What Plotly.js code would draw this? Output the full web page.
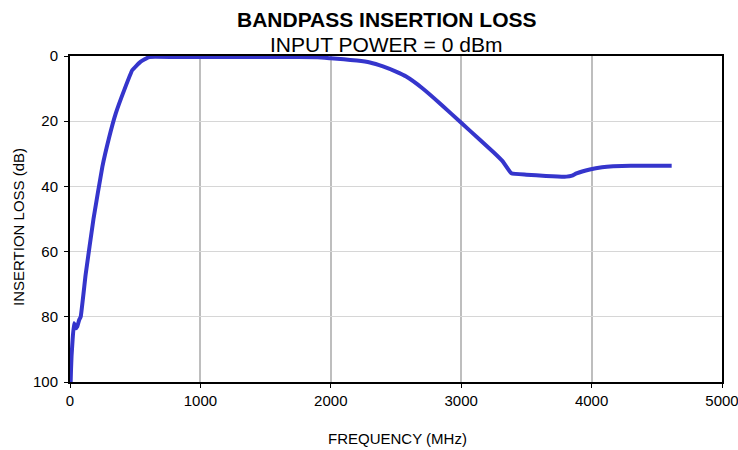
<!DOCTYPE html>
<html><head><meta charset="utf-8">
<script src="https://cdn.plot.ly/plotly-3.0.1.min.js"></script>
<style>html,body{margin:0;padding:0;background:#fff;}#chart{width:738px;height:450px;}</style>
</head><body><div id="chart"></div>
<script>
var freqMHz = [5, 8, 12, 20, 31, 45, 56, 70, 82, 120, 180, 248, 300, 351, 420, 478, 540, 607, 800, 1200, 1600, 1900, 2000, 2100, 2200, 2300, 2400, 2500, 2578, 2700, 2850, 3000, 3141, 3250, 3320, 3385, 3500, 3650, 3807, 3850, 3884, 3986, 4080, 4165, 4300, 4450, 4614];
var lossDB  = [100, 96, 92, 87, 82, 83.5, 83, 81, 80, 67, 50, 34, 25, 17.6, 10, 4.3, 1.8, 0.3, 0.3, 0.3, 0.3, 0.4, 0.7, 1.0, 1.4, 2.0, 3.2, 4.8, 6.3, 9.8, 15, 20.5, 25.6, 29.6, 32.4, 36, 36.4, 36.8, 37, 36.7, 36, 34.8, 34.1, 33.8, 33.7, 33.7, 33.7];
var xTicks = [0, 1000, 2000, 3000, 4000, 5000];
var yTicks = [0, 20, 40, 60, 80, 100];
var titleMain = 'BANDPASS INSERTION LOSS';
var titleSub = 'INPUT POWER = 0 dBm';
var xTitle = 'FREQUENCY (MHz)';
var yTitle = 'INSERTION LOSS (dB)';

var font = 'Liberation Sans, Arial, sans-serif';
function ann(text, x, y, size, angle) {
  return {text: text, xref: 'paper', yref: 'paper', x: x, y: y, xanchor: 'center', yanchor: 'middle',
          showarrow: false, textangle: angle || 0, font: {family: font, size: size, color: '#000'}};
}
Plotly.newPlot('chart', [{
  x: freqMHz, y: lossDB, type: 'scatter', mode: 'lines',
  line: {color: '#3535CC', width: 4, shape: 'spline', smoothing: 0.3},
  hoverinfo: 'skip'
}], {
  width: 738, height: 450,
  margin: {l: 70, r: 16, t: 56, b: 68},
  paper_bgcolor: '#fff', plot_bgcolor: '#fff',
  showlegend: false,
  font: {family: font, size: 15, color: '#000'},
  annotations: [
    ann('<b>' + titleMain + '</b>', 0.4847, 1.1126, 21),
    ann(titleSub, 0.4847, 1.0359, 21),
    ann(xTitle, 0.503, -0.174, 15),
    ann(yTitle, -0.0782, 0.4755, 15, -90)
  ],
  xaxis: {
    range: [0, 5000], tickvals: xTicks, ticktext: xTicks.map(String),
    showgrid: true, gridcolor: '#BEBEBE', gridwidth: 2,
    zeroline: false, showline: true, linecolor: '#000', linewidth: 2, mirror: true,
    ticks: 'outside', ticklen: 4, tickcolor: '#000', tickwidth: 1,
    ticklabeloverflow: 'allow',
    tickfont: {family: font, size: 15, color: '#000'}
  },
  yaxis: {
    range: [100, 0], tickvals: yTicks, ticktext: yTicks.map(String),
    showgrid: true, gridcolor: '#D6D6D6', gridwidth: 1,
    zeroline: false, showline: true, linecolor: '#000', linewidth: 2, mirror: true,
    ticks: 'outside', ticklen: 4, tickcolor: '#000', tickwidth: 1, ticklabelstandoff: 3,
    ticklabeloverflow: 'allow',
    tickfont: {family: font, size: 15, color: '#000'}
  }
}, {staticPlot: true, displayModeBar: false});
</script></body></html>
